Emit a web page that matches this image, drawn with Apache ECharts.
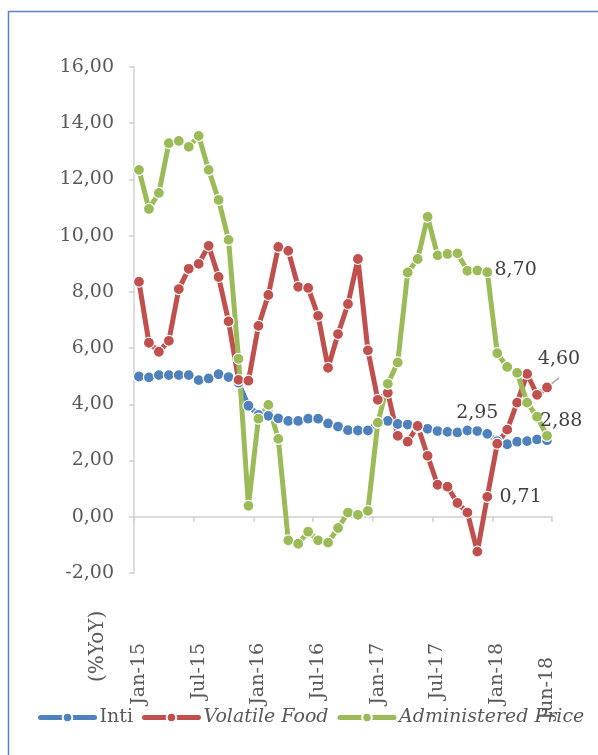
<!DOCTYPE html>
<html>
<head>
<meta charset="utf-8">
<script src="https://cdn.jsdelivr.net/npm/echarts@6/dist/echarts.min.js"></script>
<style>
  html, body { margin: 0; padding: 0; background: #fff; }
  #chart { width: 598px; height: 755px; }
</style>
</head>
<body>
<div id="chart"></div>
<script>
// monthly Jan-15 .. Jun-18
const months = [];
const monthNames = ['Jan','Feb','Mar','Apr','May','Jun','Jul','Aug','Sep','Oct','Nov','Dec'];
for (let y = 15; y <= 18; y++) {
  for (let m = 0; m < 12; m++) {
    if (y === 18 && m > 5) break;
    months.push(monthNames[m] + '-' + y);
  }
}

const inti = [
  4.99, 4.96, 5.04, 5.04, 5.04, 5.04, 4.86, 4.92, 5.07, 4.97, 4.77, 3.95,
  3.62, 3.59, 3.50, 3.41, 3.41, 3.49, 3.49, 3.32, 3.21, 3.08, 3.07, 3.07,
  3.35, 3.41, 3.30, 3.28, 3.19, 3.13, 3.05, 3.02, 3.00, 3.07, 3.05, 2.95,
  2.69, 2.58, 2.67, 2.69, 2.75, 2.72
];
const volatileFood = [
  8.36, 6.19, 5.87, 6.26, 8.10, 8.82, 9.00, 9.64, 8.53, 6.95, 4.87, 4.84,
  6.79, 7.89, 9.60, 9.46, 8.18, 8.14, 7.15, 5.30, 6.50, 7.57, 9.17, 5.92,
  4.16, 4.41, 2.88, 2.67, 3.23, 2.17, 1.14, 1.07, 0.49, 0.15, -1.24, 0.71,
  2.60, 3.10, 4.06, 5.08, 4.34, 4.60
];
const administered = [
  12.34, 10.95, 11.52, 13.29, 13.37, 13.16, 13.55, 12.34, 11.27, 9.85, 5.62, 0.39,
  3.49, 3.98, 2.77, -0.84, -0.96, -0.53, -0.84, -0.92, -0.40, 0.15, 0.07, 0.21,
  3.35, 4.73, 5.49, 8.69, 9.17, 10.67, 9.30, 9.35, 9.37, 8.75, 8.76, 8.70,
  5.82, 5.33, 5.12, 4.06, 3.56, 2.88
];

const FONT = 'DejaVu Serif';
const fmt = (v) => v.toFixed(2).replace('.', ',');
const labelBase = { show: true, fontFamily: FONT, fontSize: 19, color: '#404040', formatter: (p) => fmt(p.value) };

// only a few points carry a value label
function withLabels(values, labels) {
  return values.map((v, i) => {
    if (!labels[i]) return v;
    const { line, ...lbl } = labels[i];
    return { value: v, label: Object.assign({}, labelBase, lbl), labelLine: { show: !!line, lineStyle: { color: '#a0a0a0', width: 1.5 } } };
  });
}

function lineSeries(name, color, data) {
  return {
    name: name,
    type: 'line',
    data: data,
    symbol: 'circle',
    symbolSize: 11,
    showAllSymbol: true,
    lineStyle: { width: 5, color: color },
    itemStyle: { color: color, borderColor: '#fff', borderWidth: 1.2 },
    emphasis: { disabled: true },
    animation: false
  };
}

const chart = echarts.init(document.getElementById('chart'));

const option = {
  backgroundColor: '#fff',
  animation: false,
  grid: { left: 134, right: 46, top: 67, bottom: 182 },
  legend: {
    left: 33,
    top: 703,
    itemWidth: 54,
    itemHeight: 12,
    itemGap: 9,
    lineStyle: { width: 5, cap: 'round' },
    textStyle: { fontFamily: FONT, fontSize: 19, color: '#595959' },
    data: [
      { name: 'Inti' },
      { name: 'Volatile Food', textStyle: { fontStyle: 'italic' } },
      { name: 'Administered Price', textStyle: { fontStyle: 'italic' } }
    ]
  },
  xAxis: {
    type: 'category',
    data: months,
    boundaryGap: true,
    axisLine: { onZero: true, lineStyle: { color: '#d0d0d0', width: 1.5 } },
    axisTick: { show: true, length: 5, interval: (i) => i % 6 === 0, lineStyle: { color: '#d0d0d0', width: 1.5 } },
    axisLabel: {
      interval: (i) => i % 6 === 0 || i === 41,
      rotate: 90,
      margin: 70,
      hideOverlap: false,
      fontFamily: FONT,
      fontSize: 19,
      color: '#595959',
      formatter: (v, i) => i === 41 ? '{d|' + v + '}' : v,
      rich: { d: { fontFamily: FONT, fontSize: 19, color: '#595959', padding: [0, 14, 0, 0] } }
    },
    splitLine: { show: false }
  },
  yAxis: {
    type: 'value',
    min: -2,
    max: 16,
    interval: 2,
    axisLine: { show: true, lineStyle: { color: '#d0d0d0', width: 1.5 } },
    axisTick: { show: true, length: 5, lineStyle: { color: '#d0d0d0', width: 1.5 } },
    axisLabel: { margin: 20, fontFamily: FONT, fontSize: 19, color: '#595959', formatter: fmt },
    splitLine: { show: false }
  },
  graphic: [
    {
      type: 'rect',
      shape: { x: 8.5, y: 11.5, width: 700, height: 800 },
      style: { fill: 'none', stroke: '#5b83bd', lineWidth: 1.5 },
      silent: true
    },
    {
      type: 'text',
      x: 88,
      y: 682,
      rotation: Math.PI / 2,
      style: { text: '(%YoY)', font: '20px "DejaVu Serif"', fill: '#595959', align: 'left', verticalAlign: 'top' }
    }
  ],
  series: [
    lineSeries('Inti', '#4f81bd', withLabels(inti, {
      35: { position: 'top', offset: [-10, 0] }
    })),
    lineSeries('Volatile Food', '#c0504d', withLabels(volatileFood, {
      35: { position: 'right', distance: 6 },
      41: { position: 'top', offset: [12, -8], line: true }
    })),
    lineSeries('Administered Price', '#9bbb59', withLabels(administered, {
      35: { position: 'right', distance: 1, offset: [0, -2] },
      41: { position: 'right', distance: 0, offset: [-13, -15] }
    }))
  ]
};

chart.setOption(option);
</script>
</body>
</html>
